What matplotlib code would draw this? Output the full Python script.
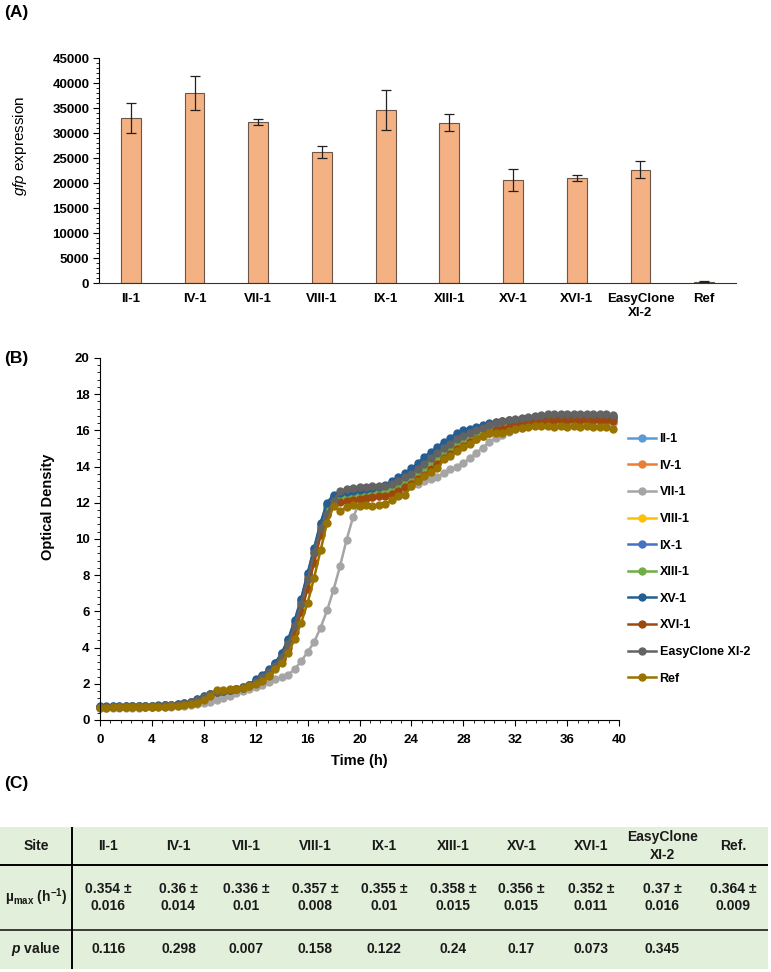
import numpy as np
import matplotlib
matplotlib.use("Agg")
import matplotlib.pyplot as plt
from matplotlib.ticker import MultipleLocator

plt.rcParams["font.family"] = ["Liberation Sans", "DejaVu Sans"]
plt.rcParams["font.weight"] = "bold"
plt.rcParams["axes.labelweight"] = "bold"
plt.rcParams["mathtext.fontset"] = "custom"
plt.rcParams["mathtext.rm"] = "Liberation Sans:bold"
plt.rcParams["mathtext.bf"] = "Liberation Sans:bold"
plt.rcParams["mathtext.it"] = "Liberation Sans:bold:italic"
plt.rcParams["mathtext.sf"] = "Liberation Sans:style=italic:weight=normal"

# ---- (A) gfp expression per integration site
sites = ["II-1", "IV-1", "VII-1", "VIII-1", "IX-1", "XIII-1", "XV-1",
         "XVI-1", "EasyClone\nXI-2", "Ref"]
gfp_mean = [33000, 38100, 32200, 26300, 34700, 32100, 20600, 21000, 22700, 300]
gfp_err = [3000, 3400, 600, 1200, 4000, 1700, 2200, 600, 1700, 100]

# ---- (B) growth curves, OD every 0.5 h
time_h = [0.0, 0.5, 1.0, 1.5, 2.0, 2.5, 3.0, 3.5, 4.0, 4.5,
          5.0, 5.5, 6.0, 6.5, 7.0, 7.5, 8.0, 8.5, 9.0, 9.5,
          10.0, 10.5, 11.0, 11.5, 12.0, 12.5, 13.0, 13.5, 14.0, 14.5,
          15.0, 15.5, 16.0, 16.5, 17.0, 17.5, 18.0, 18.5, 19.0, 19.5,
          20.0, 20.5, 21.0, 21.5, 22.0, 22.5, 23.0, 23.5, 24.0, 24.5,
          25.0, 25.5, 26.0, 26.5, 27.0, 27.5, 28.0, 28.5, 29.0, 29.5,
          30.0, 30.5, 31.0, 31.5, 32.0, 32.5, 33.0, 33.5, 34.0, 34.5,
          35.0, 35.5, 36.0, 36.5, 37.0, 37.5, 38.0, 38.5, 39.0, 39.5]

od_II_1 = [0.72, 0.73, 0.73, 0.74, 0.74, 0.75, 0.75, 0.76, 0.77, 0.78,
           0.80, 0.82, 0.85, 0.90, 0.98, 1.10, 1.25, 1.42, 1.55, 1.60,
           1.65, 1.71, 1.79, 1.92, 2.15, 2.40, 2.72, 3.08, 3.60, 4.30,
           5.30, 6.50, 7.90, 9.30, 10.70, 11.80, 12.30, 12.45, 12.50, 12.55,
           12.60, 12.65, 12.70, 12.75, 12.80, 12.90, 13.05, 13.25, 13.50, 13.80,
           14.10, 14.40, 14.70, 14.95, 15.20, 15.45, 15.65, 15.85, 16.00, 16.15,
           16.25, 16.35, 16.45, 16.50, 16.55, 16.60, 16.65, 16.70, 16.75, 16.75,
           16.80, 16.80, 16.80, 16.80, 16.80, 16.80, 16.80, 16.80, 16.80, 16.75]
od_IV_1 = [0.73, 0.73, 0.74, 0.74, 0.75, 0.75, 0.76, 0.76, 0.77, 0.78,
           0.80, 0.82, 0.86, 0.91, 0.99, 1.12, 1.28, 1.44, 1.56, 1.61,
           1.66, 1.72, 1.80, 1.93, 2.17, 2.42, 2.75, 3.10, 3.62, 4.35,
           5.35, 6.55, 7.95, 9.35, 10.75, 11.85, 12.30, 12.40, 12.45, 12.50,
           12.55, 12.60, 12.65, 12.70, 12.75, 12.85, 13.00, 13.20, 13.45, 13.75,
           14.05, 14.40, 14.70, 15.00, 15.25, 15.50, 15.75, 15.95, 16.10, 16.25,
           16.35, 16.45, 16.50, 16.55, 16.60, 16.65, 16.70, 16.75, 16.80, 16.80,
           16.85, 16.85, 16.85, 16.85, 16.85, 16.85, 16.85, 16.85, 16.85, 16.80]
od_VII_1 = [0.65, 0.66, 0.66, 0.67, 0.67, 0.68, 0.68, 0.69, 0.70, 0.71,
            0.72, 0.74, 0.76, 0.79, 0.82, 0.86, 0.92, 1.00, 1.10, 1.23,
            1.35, 1.50, 1.60, 1.70, 1.82, 1.95, 2.08, 2.24, 2.36, 2.50,
            2.80, 3.25, 3.75, 4.30, 5.10, 6.05, 7.20, 8.50, 9.95, 11.20,
            12.00, 12.20, 12.30, 12.40, 12.50, 12.60, 12.70, 12.80, 12.95, 13.05,
            13.20, 13.30, 13.45, 13.65, 13.85, 14.00, 14.20, 14.45, 14.75, 15.05,
            15.35, 15.60, 15.75, 15.90, 16.05, 16.15, 16.25, 16.30, 16.35, 16.40,
            16.40, 16.40, 16.40, 16.40, 16.40, 16.40, 16.40, 16.40, 16.40, 16.40]
od_VIII_1 = [0.72, 0.72, 0.73, 0.73, 0.74, 0.74, 0.75, 0.75, 0.76, 0.77,
             0.79, 0.81, 0.84, 0.89, 0.97, 1.08, 1.22, 1.40, 1.53, 1.59,
             1.64, 1.70, 1.78, 1.90, 2.10, 2.35, 2.65, 3.00, 3.45, 4.10,
             5.00, 6.10, 7.40, 8.80, 10.30, 11.50, 12.10, 12.25, 12.30, 12.35,
             12.40, 12.45, 12.50, 12.55, 12.60, 12.70, 12.85, 13.05, 13.30, 13.55,
             13.85, 14.15, 14.45, 14.75, 15.00, 15.25, 15.45, 15.65, 15.85, 16.00,
             16.10, 16.20, 16.30, 16.40, 16.45, 16.50, 16.55, 16.60, 16.60, 16.60,
             16.65, 16.65, 16.65, 16.65, 16.65, 16.65, 16.65, 16.65, 16.65, 16.60]
od_IX_1 = [0.74, 0.74, 0.75, 0.75, 0.76, 0.76, 0.77, 0.77, 0.78, 0.79,
           0.81, 0.83, 0.86, 0.92, 1.00, 1.14, 1.30, 1.45, 1.56, 1.61,
           1.66, 1.72, 1.80, 1.94, 2.20, 2.45, 2.78, 3.12, 3.68, 4.40,
           5.45, 6.65, 8.05, 9.45, 10.85, 11.95, 12.40, 12.50, 12.55, 12.60,
           12.65, 12.70, 12.75, 12.80, 12.85, 12.95, 13.10, 13.35, 13.60, 13.90,
           14.20, 14.50, 14.80, 15.05, 15.30, 15.55, 15.75, 15.90, 16.05, 16.20,
           16.30, 16.40, 16.45, 16.50, 16.55, 16.60, 16.65, 16.70, 16.75, 16.75,
           16.80, 16.80, 16.80, 16.80, 16.80, 16.80, 16.80, 16.80, 16.80, 16.75]
od_XIII_1 = [0.72, 0.73, 0.73, 0.74, 0.74, 0.75, 0.75, 0.76, 0.77, 0.78,
             0.80, 0.82, 0.85, 0.90, 0.98, 1.10, 1.26, 1.42, 1.55, 1.60,
             1.65, 1.71, 1.79, 1.91, 2.14, 2.38, 2.70, 3.05, 3.55, 4.25,
             5.20, 6.40, 7.80, 9.20, 10.60, 11.70, 12.25, 12.35, 12.40, 12.45,
             12.50, 12.55, 12.60, 12.65, 12.70, 12.80, 12.95, 13.15, 13.40, 13.70,
             14.00, 14.30, 14.60, 14.85, 15.10, 15.35, 15.55, 15.75, 15.90, 16.05,
             16.15, 16.25, 16.35, 16.40, 16.45, 16.50, 16.55, 16.60, 16.65, 16.65,
             16.70, 16.70, 16.70, 16.70, 16.70, 16.70, 16.70, 16.70, 16.70, 16.65]
od_XV_1 = [0.75, 0.75, 0.76, 0.76, 0.77, 0.77, 0.78, 0.78, 0.79, 0.80,
           0.81, 0.83, 0.86, 0.92, 1.00, 1.15, 1.30, 1.45, 1.55, 1.60,
           1.66, 1.72, 1.80, 1.95, 2.25, 2.50, 2.80, 3.15, 3.70, 4.45,
           5.50, 6.70, 8.10, 9.50, 10.90, 12.00, 12.45, 12.55, 12.60, 12.65,
           12.70, 12.75, 12.80, 12.85, 13.00, 13.20, 13.40, 13.65, 13.90, 14.20,
           14.55, 14.80, 15.10, 15.35, 15.60, 15.85, 16.00, 16.10, 16.20, 16.30,
           16.40, 16.45, 16.50, 16.55, 16.60, 16.65, 16.70, 16.75, 16.75, 16.80,
           16.80, 16.80, 16.80, 16.80, 16.80, 16.80, 16.80, 16.80, 16.80, 16.75]
od_XVI_1 = [0.70, 0.70, 0.71, 0.71, 0.72, 0.72, 0.73, 0.73, 0.74, 0.75,
            0.77, 0.79, 0.82, 0.87, 0.95, 1.05, 1.20, 1.38, 1.52, 1.58,
            1.63, 1.69, 1.76, 1.88, 2.05, 2.28, 2.55, 2.90, 3.35, 3.95,
            4.85, 5.95, 7.25, 8.70, 10.20, 11.30, 11.95, 12.05, 12.10, 12.15,
            12.20, 12.25, 12.30, 12.35, 12.40, 12.50, 12.65, 12.85, 13.05, 13.30,
            13.55, 13.85, 14.15, 14.45, 14.70, 14.95, 15.15, 15.35, 15.55, 15.70,
            15.85, 16.00, 16.10, 16.20, 16.30, 16.35, 16.40, 16.45, 16.50, 16.50,
            16.55, 16.55, 16.55, 16.55, 16.55, 16.55, 16.55, 16.55, 16.55, 16.50]
od_easyclone = [0.73, 0.73, 0.74, 0.74, 0.75, 0.75, 0.76, 0.76, 0.77, 0.78,
                0.80, 0.82, 0.85, 0.90, 0.98, 1.10, 1.25, 1.42, 1.55, 1.60,
                1.65, 1.71, 1.79, 1.92, 2.10, 2.35, 2.65, 3.00, 3.50, 4.20,
                5.20, 6.40, 7.80, 9.20, 10.60, 11.40, 12.10, 12.65, 12.75, 12.80,
                12.85, 12.85, 12.90, 12.90, 12.95, 13.05, 13.20, 13.40, 13.60, 13.85,
                14.15, 14.45, 14.75, 15.00, 15.25, 15.50, 15.70, 15.85, 16.00, 16.15,
                16.30, 16.40, 16.50, 16.55, 16.65, 16.70, 16.75, 16.80, 16.85, 16.90,
                16.90, 16.90, 16.90, 16.90, 16.90, 16.90, 16.90, 16.90, 16.90, 16.85]
od_ref = [0.68, 0.68, 0.69, 0.69, 0.70, 0.70, 0.71, 0.71, 0.72, 0.73,
          0.74, 0.76, 0.78, 0.82, 0.88, 0.96, 1.10, 1.30, 1.68, 1.68,
          1.70, 1.72, 1.78, 1.86, 2.00, 2.15, 2.42, 2.79, 3.16, 3.71,
          4.45, 5.37, 6.47, 7.86, 9.38, 10.90, 11.80, 11.55, 11.75, 11.85,
          11.80, 11.85, 11.80, 11.85, 11.95, 12.15, 12.40, 12.45, 12.90, 13.20,
          13.47, 13.70, 13.90, 14.40, 14.60, 14.85, 15.10, 15.26, 15.50, 15.70,
          15.87, 15.87, 15.87, 15.95, 16.05, 16.15, 16.20, 16.25, 16.25, 16.25,
          16.20, 16.25, 16.20, 16.25, 16.20, 16.25, 16.20, 16.20, 16.20, 16.10]

curve_names = ["II-1", "IV-1", "VII-1", "VIII-1", "IX-1", "XIII-1", "XV-1",
               "XVI-1", "EasyClone XI-2", "Ref"]
curve_data = [od_II_1, od_IV_1, od_VII_1, od_VIII_1, od_IX_1, od_XIII_1,
              od_XV_1, od_XVI_1, od_easyclone, od_ref]
curve_colors = ["#5B9BD5", "#ED7D31", "#A5A5A5", "#FFC000", "#4472C4",
                "#70AD47", "#255E91", "#9E480E", "#636363", "#997300"]

# ---- (C) growth rate table
table_header = ["Site", "II-1", "IV-1", "VII-1", "VIII-1", "IX-1", "XIII-1",
                "XV-1", "XVI-1", "EasyClone\nXI-2", "Ref."]
mu_max_mean = ["0.354", "0.36", "0.336", "0.357", "0.355", "0.358", "0.356",
               "0.352", "0.37", "0.364"]
mu_max_sd = ["0.016", "0.014", "0.01", "0.008", "0.01", "0.015", "0.015",
             "0.011", "0.016", "0.009"]
p_values = ["0.116", "0.298", "0.007", "0.158", "0.122", "0.24", "0.17",
            "0.073", "0.345", ""]


def plot_gfp(fig):
    ax = fig.add_axes([0.1284, 0.7088, 0.8262, 0.2315])
    x = np.arange(len(sites))
    ax.bar(x, gfp_mean, width=0.31, color="#F4B183", edgecolor="#6b5647",
           linewidth=0.8, yerr=gfp_err, capsize=3.5,
           error_kw=dict(elinewidth=0.9, capthick=0.9, ecolor="#222222"))
    ax.set_xlim(-0.5, len(sites) - 0.5)
    ax.set_ylim(0, 45000)
    ax.yaxis.set_major_locator(MultipleLocator(5000))
    ax.yaxis.set_minor_locator(MultipleLocator(1000))
    ax.set_xticks(x)
    ax.set_xticklabels(sites, fontsize=9.5, fontweight="bold", linespacing=1.25)
    ax.tick_params(axis="x", length=0, pad=7)
    ax.tick_params(axis="y", which="major", direction="out", length=4,
                   labelsize=9.5, pad=3)
    ax.tick_params(axis="y", which="minor", direction="out", length=2)
    for s in ["top", "right"]:
        ax.spines[s].set_visible(False)
    ax.spines["bottom"].set_color("#333333")
    ax.set_ylabel(r"$\mathsf{gfp}$ expression", fontsize=11,
                  fontweight="normal")
    ax.yaxis.set_label_coords(-0.11, 0.61)


def plot_growth(fig):
    ax = fig.add_axes([0.1297, 0.2593, 0.6732, 0.3724])
    for name, od, color in zip(curve_names, curve_data, curve_colors):
        ax.plot(time_h, od, color=color, marker="o", markersize=5,
                linewidth=1.8, label=name, clip_on=False)
    ax.set_xlim(0, 40)
    ax.set_ylim(0, 20)
    ax.xaxis.set_major_locator(MultipleLocator(4))
    ax.xaxis.set_minor_locator(MultipleLocator(0.8))
    ax.yaxis.set_major_locator(MultipleLocator(2))
    ax.yaxis.set_minor_locator(MultipleLocator(0.4))
    ax.tick_params(which="major", direction="out", length=4, labelsize=9.5)
    ax.tick_params(which="minor", direction="out", length=2)
    ax.tick_params(axis="x", pad=6)
    for s in ["top", "right"]:
        ax.spines[s].set_visible(False)
    ax.set_xlabel("Time (h)", fontsize=10.5, fontweight="bold", labelpad=6)
    ax.set_ylabel("Optical Density", fontsize=10.5, fontweight="bold")
    ax.yaxis.set_label_coords(-0.087, 0.588)
    ax.legend(loc="upper left", bbox_to_anchor=(0.815, 0.5545),
              bbox_transform=fig.transFigure, frameon=False, fontsize=9,
              handlelength=2.2, handletextpad=0.3, labelspacing=1.17,
              borderpad=0, borderaxespad=0)


def plot_table(fig):
    ax = fig.add_axes([0.0, 0.0031, 0.9961, 0.1461])
    col_edges = [0, 72, 145, 212, 281, 349, 419, 488, 555, 627, 698, 768]
    row_edges = [142, 104, 39, 0]
    ax.set_xlim(0, col_edges[-1])
    ax.set_ylim(0, row_edges[0])
    ax.set_facecolor("#E2EFDA")
    for s in ax.spines.values():
        s.set_visible(False)
    ax.set_xticks([])
    ax.set_yticks([])

    centers = [(a + b) / 2 for a, b in zip(col_edges[:-1], col_edges[1:])]
    row_mid = [(a + b) / 2 for a, b in zip(row_edges[:-1], row_edges[1:])]

    row_labels = ["Site", r"µ$_{\mathbf{max}}$ (h$^{\mathbf{-1}}$)",
                  r"$\mathit{p}$ value"]
    mu_cells = [f"{m} ±\n{s}" for m, s in zip(mu_max_mean, mu_max_sd)]
    rows = [table_header[1:], mu_cells, p_values]
    for r, (label, cells) in enumerate(zip(row_labels, rows)):
        ax.text(centers[0], row_mid[r], label, ha="center", va="center",
                fontsize=10, color="#1a1a1a")
        for c, txt in enumerate(cells):
            ax.text(centers[c + 1], row_mid[r], txt, ha="center",
                    va="center", fontsize=10, linespacing=1.3,
                    color="#1a1a1a")

    ax.axhline(row_edges[1], color="black", linewidth=1.4)
    ax.axhline(row_edges[2], color="#3a3a3a", linewidth=1.4)
    ax.axvline(col_edges[1], color="black", linewidth=1.4)


fig = plt.figure(figsize=(7.71, 9.72), dpi=100)
plot_gfp(fig)
plot_growth(fig)
plot_table(fig)

fig.text(0.005, 0.9875, "(A)", fontsize=12.5, va="center")
fig.text(0.005, 0.6315, "(B)", fontsize=12.5, va="center")
fig.text(0.005, 0.1935, "(C)", fontsize=12.5, va="center")

fig.savefig("out.png", dpi=100)
